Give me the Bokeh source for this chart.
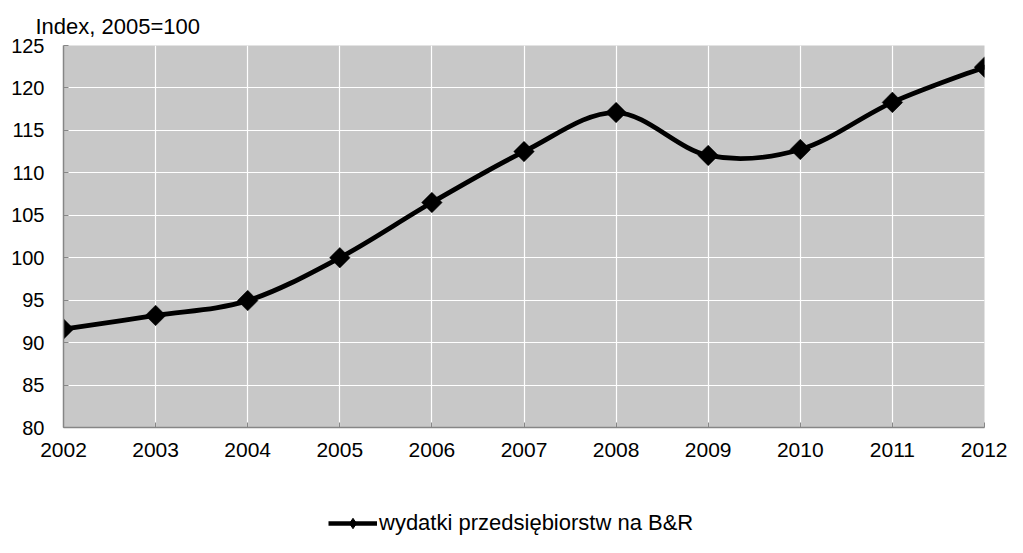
import numpy as np
from bokeh.plotting import figure
from bokeh.layouts import column
from bokeh.models import ColumnDataSource, Legend, LegendItem, FixedTicker, Range1d
from bokeh.embed import file_html
from bokeh.resources import INLINE

years = [2002, 2003, 2004, 2005, 2006, 2007, 2008, 2009, 2010, 2011, 2012]
values = [91.6, 93.2, 94.95, 100.0, 106.5, 112.5, 117.1, 112.05, 112.75, 118.3, 122.45]
series_name = "wydatki przedsiębiorstw na B&R"
y_title = "Index, 2005=100"
y_ticks = [80, 85, 90, 95, 100, 105, 110, 115, 120, 125]

FONT = "Liberation Sans"

p = figure(width=1007, height=470, output_backend="svg", toolbar_location=None,
           x_range=Range1d(2002, 2012), y_range=Range1d(80, 125),
           min_border_left=63, min_border_right=23, min_border_top=45, min_border_bottom=43)
p.background_fill_color = "#c8c8c8"
p.border_fill_color = "white"
p.outline_line_color = None

p.title.text = y_title
p.title.align = "left"
p.title.offset = -28
p.title.text_font = FONT
p.title.text_font_size = "22px"
p.title.text_font_style = "normal"
p.title.text_color = "black"
p.title.vertical_align = "top"
p.title.standoff = 10

for ax in (p.xaxis[0], p.yaxis[0]):
    ax.axis_line_color = "#868686"
    ax.axis_line_width = 1.5
    ax.major_tick_line_color = "#868686"
    ax.major_tick_in = 5
    ax.major_tick_out = 0
    ax.minor_tick_line_color = None
    ax.major_label_text_font = FONT
    ax.major_label_text_color = "black"

p.xaxis.major_label_text_font_size = "21px"
p.yaxis.major_label_text_font_size = "20px"
p.xaxis.ticker = FixedTicker(ticks=years)
p.yaxis.ticker = FixedTicker(ticks=y_ticks)
p.xaxis.major_label_standoff = 15
p.yaxis.major_label_standoff = 19

p.xgrid.grid_line_color = "white"
p.ygrid.grid_line_color = "white"
p.xgrid.grid_line_width = 1.2
p.ygrid.grid_line_width = 1.2

# smooth curve (Catmull-Rom style Bezier through the data points)
x = np.array(years, dtype=float)
y = np.array(values, dtype=float)
xp = np.concatenate([[x[0]], x, [x[-1]]])
yp = np.concatenate([[y[0]], y, [y[-1]]])
n = len(x)
x0 = x[:-1]; y0 = y[:-1]; x1 = x[1:]; y1 = y[1:]
cx0 = x0 + (xp[2:n + 1] - xp[0:n - 1]) / 6.0
cy0 = y0 + (yp[2:n + 1] - yp[0:n - 1]) / 6.0
cx1 = x1 - (xp[3:n + 2] - xp[1:n]) / 6.0
cy1 = y1 - (yp[3:n + 2] - yp[1:n]) / 6.0
p.bezier(x0=x0, y0=y0, x1=x1, y1=y1, cx0=cx0, cy0=cy0, cx1=cx1, cy1=cy1,
         line_color="black", line_width=4.8, line_cap="round")

src = ColumnDataSource(dict(x=years, y=values))
p.scatter("x", "y", source=src, marker="square", angle=np.pi / 4, size=14.5,
          fill_color="black", line_color="black", line_width=0.5)

# legend strip below the chart (its own renderers lie outside its ranges)
lg = figure(width=1007, height=67, output_backend="svg", toolbar_location=None,
            x_axis_type=None, y_axis_type=None,
            x_range=Range1d(0, 1), y_range=Range1d(0, 1),
            min_border=0)
lg.outline_line_color = None
lg.xgrid.visible = False
lg.ygrid.visible = False
lsrc = ColumnDataSource(dict(x=years, y=values))
l_line = lg.line("x", "y", source=lsrc, line_color="black", line_width=4.5)
l_pts = lg.scatter("x", "y", source=lsrc, marker="diamond", size=14,
                   fill_color="black", line_color="black")

legend = Legend(items=[LegendItem(label=series_name, renderers=[l_line, l_pts])],
                location=(265, 1), orientation="horizontal",
                label_text_font=FONT, label_text_font_size="22px", label_text_color="black",
                glyph_width=49, glyph_height=26, label_standoff=2,
                padding=0, margin=0,
                background_fill_alpha=0, border_line_color=None)
lg.add_layout(legend, "center")

layout = column(p, lg, spacing=0)
open("out.html", "w").write(file_html(layout, INLINE))
